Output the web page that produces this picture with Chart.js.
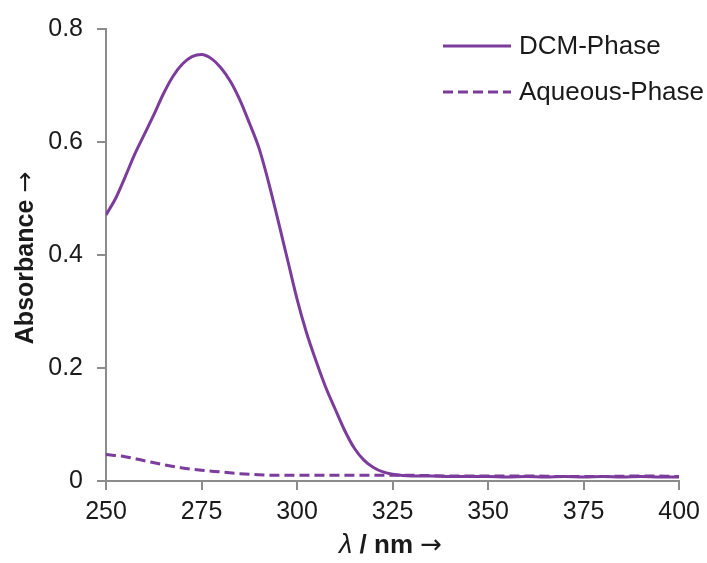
<!DOCTYPE html>
<html>
<head>
<meta charset="utf-8">
<script src="https://cdn.jsdelivr.net/npm/chart.js@4.4.1/dist/chart.umd.min.js"></script>
<style>
  html, body { margin:0; padding:0; background:#fff; }
  canvas { display:block; }
</style>
</head>
<body>
<canvas id="uv" width="707" height="563"></canvas>
<script>
// ── spectra (wavelength in nm, absorbance) ───────────────────────────────────
const DCM_NM = [250,252.5,255,257.5,260,262.5,265,267.5,270,272.5,275,277.5,280,282.5,285,287.5,290,292.5,295,297.5,
                300,302.5,305,307.5,310,312.5,315,317.5,320,322.5,325,330,335,340,345,350,355,360,365,370,375,380,385,390,395,400];
const DCM_ABS = [0.471,0.500,0.538,0.578,0.613,0.648,0.685,0.716,0.738,0.751,0.755,0.748,0.732,0.708,0.675,0.634,0.590,0.530,0.462,0.392,
                 0.322,0.262,0.212,0.166,0.127,0.089,0.058,0.037,0.024,0.016,0.012,0.009,0.009,0.008,0.008,0.008,0.007,0.008,0.007,0.008,0.007,0.008,0.007,0.008,0.007,0.007];

const AQ_NM  = [250,255,260,265,270,275,280,285,290,295,300,310,320,330,340,350,360,370,380,390,400];
const AQ_ABS = [0.047,0.043,0.036,0.029,0.023,0.019,0.016,0.013,0.011,0.010,0.010,0.010,0.010,0.010,0.009,0.009,0.009,0.008,0.008,0.009,0.008];

const X_TICKS = [250,275,300,325,350,375,400];
const Y_TICKS = [0,0.2,0.4,0.6,0.8];

const PURPLE = "#7b3c9c";
const AXIS   = "#8c8c8c";
const INK    = "#1a1a1a";
const FONT   = "'Liberation Sans', Arial, sans-serif";
const ARROW_FONT = "'DejaVu Sans', sans-serif";

const pts = (xs, ys) => xs.map((x,i) => ({ x, y: ys[i] }));

// draws a run of [text, font] pieces left to right, returns total width
function runWidth(ctx, parts) {
  return parts.reduce((w, [t, f]) => { ctx.font = f; return w + ctx.measureText(t).width; }, 0);
}
function drawRun(ctx, parts, x, y) {
  parts.forEach(([t, f]) => { ctx.font = f; ctx.fillText(t, x, y); x += ctx.measureText(t).width; });
}

// ── legend in the top-right corner, line samples + labels ────────────────────
const cornerLegend = {
  id: "cornerLegend",
  afterDraw(chart) {
    const ctx = chart.ctx;
    ctx.save();
    ctx.font = `26px ${FONT}`;
    ctx.textBaseline = "middle";
    chart.data.datasets.forEach((ds, i) => {
      const y = 46 + i * 46;
      ctx.strokeStyle = ds.borderColor;
      ctx.lineWidth = ds.borderWidth;
      ctx.setLineDash(ds.borderDash || []);
      ctx.beginPath(); ctx.moveTo(443, y); ctx.lineTo(511, y); ctx.stroke();
      ctx.setLineDash([]);
      ctx.fillStyle = INK;
      ctx.fillText(ds.label, 519, y + 1);
    });
    ctx.restore();
  }
};

// ── axis titles: bold text, italic lambda, long arrow ────────────────────────
const axisTitles = {
  id: "axisTitles",
  afterDraw(chart) {
    const ctx = chart.ctx, a = chart.chartArea;
    ctx.save();
    ctx.fillStyle = INK;
    ctx.textBaseline = "alphabetic";

    const xParts = [["λ", `italic 27px ${FONT}`], [" / nm ", `bold 26px ${FONT}`], ["→", `26px ${ARROW_FONT}`]];
    const xw = runWidth(ctx, xParts);
    drawRun(ctx, xParts, (a.left + a.right) / 2 - xw / 2 - 2, 553);

    const yParts = [["Absorbance ", `bold 25px ${FONT}`], ["→", `25px ${ARROW_FONT}`]];
    const yw = runWidth(ctx, yParts);
    ctx.translate(33, (a.top + a.bottom) / 2 + 3);
    ctx.rotate(-Math.PI / 2);
    drawRun(ctx, yParts, -yw / 2, 0);
    ctx.restore();
  }
};

new Chart(document.getElementById("uv"), {
  type: "line",
  data: {
    datasets: [
      { label:"DCM-Phase", data: pts(DCM_NM, DCM_ABS), borderColor:PURPLE, borderWidth:3,
        pointRadius:0, cubicInterpolationMode:"monotone", fill:false },
      { label:"Aqueous-Phase", data: pts(AQ_NM, AQ_ABS), borderColor:PURPLE, borderWidth:3, borderDash:[10,5],
        pointRadius:0, cubicInterpolationMode:"monotone", fill:false },
    ],
  },
  options: {
    responsive:false, animation:false, devicePixelRatio:1,
    layout: { padding:{ top:25, right:27, bottom:0, left:0 } },
    plugins: { legend:{ display:false }, tooltip:{ enabled:false } },
    scales: {
      x: {
        type:"linear", min:250, max:400,
        afterFit: s => { s.height = 82; },
        afterBuildTicks: s => { s.ticks = X_TICKS.map(v => ({ value:v })); },
        border: { display:true, color:AXIS, width:2 },
        grid: { drawOnChartArea:false, drawTicks:true, tickLength:9, color:AXIS, lineWidth:2 },
        ticks: { color:INK, padding:7, maxRotation:0, font:{ family:FONT, size:25 } },
      },
      y: {
        min:0, max:0.8,
        afterFit: s => { s.width = 106; },
        afterBuildTicks: s => { s.ticks = Y_TICKS.map(v => ({ value:v })); },
        border: { display:true, color:AXIS, width:2 },
        grid: { drawOnChartArea:false, drawTicks:true, tickLength:9, color:AXIS, lineWidth:2 },
        ticks: { color:INK, padding:14, font:{ family:FONT, size:25 }, callback: v => String(+v.toFixed(1)) },
      },
    },
  },
  plugins: [cornerLegend, axisTitles],
});
</script>
</body>
</html>
